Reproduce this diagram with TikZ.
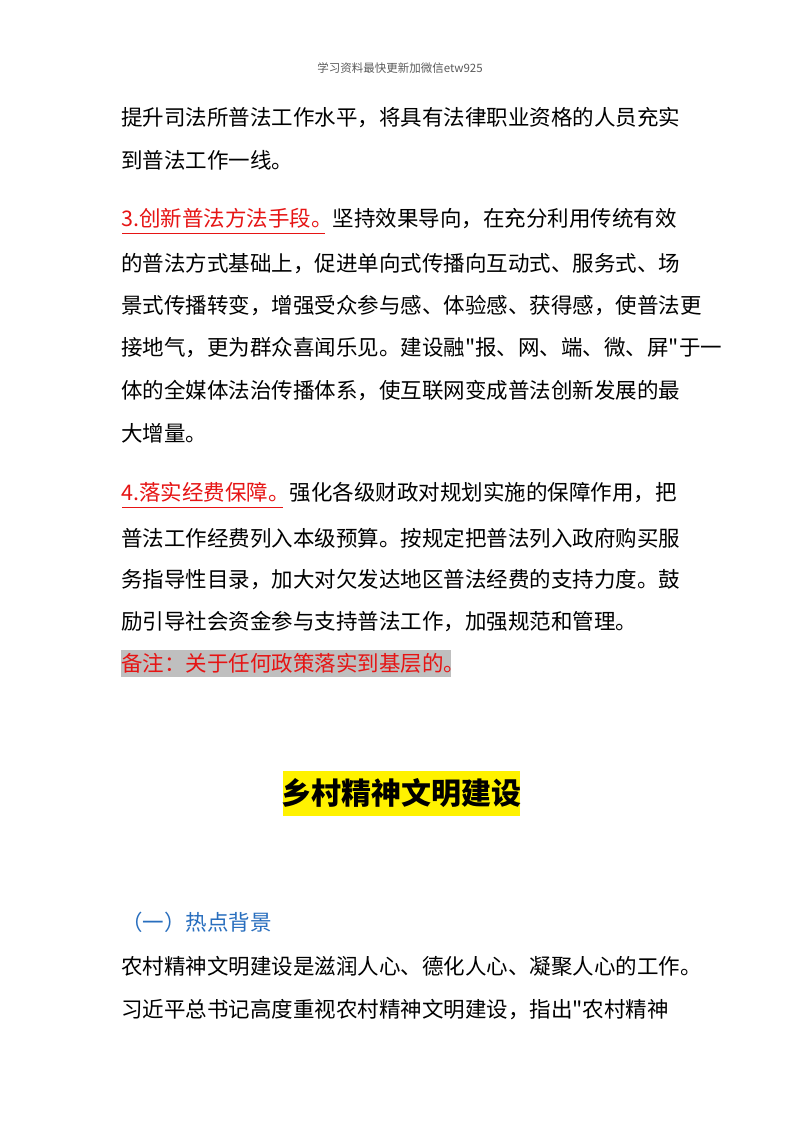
\documentclass[tikz,border=0pt]{standalone}
\usepackage{fontspec}
\setmainfont{Noto Sans CJK SC}
\newfontfamily\qf{Noto Sans CJK SC}
\newcommand{\dq}{{\qf "}}
\definecolor{hdr}{RGB}{90,90,90}
\definecolor{redt}{RGB}{230,20,20}
\definecolor{bluet}{RGB}{40,110,190}
\begin{document}
\begin{tikzpicture}[x=1pt,y=1pt,
  body/.style={anchor=west,inner sep=0pt,font=\fontsize{21.5}{21.5}\selectfont,text=black}]
\useasboundingbox (0,0) rectangle (800,-1132);
\fill[white] (0,0) rectangle (800,-1132);
\node[anchor=center,inner sep=0,font=\fontsize{11.5}{12}\selectfont,text=hdr] (h) at (400,-68) {学习资料最快更新加微信etw925};
\node[body] (l1) at (121,-118) {提升司法所普法工作水平，将具有法律职业资格的人员充实};
\node[body] (l2) at (121,-160) {到普法工作一线。};
\node[body] (l3) at (121,-219) {\textcolor{redt}{3.创新普法方法手段。}坚持效果导向，在充分利用传统有效};
\draw[redt,line width=1pt] (122,-233) -- (325,-233);
\node[body] (l4) at (121,-264) {的普法方式基础上，促进单向式传播向互动式、服务式、场};
\node[body] (l5) at (121,-306) {景式传播转变，增强受众参与感、体验感、获得感，使普法更};
\node[body] (l6) at (121,-348) {接地气，更为群众喜闻乐见。建设融\dq 报、网、端、微、屏\dq 于一};
\node[body] (l7) at (121,-390) {体的全媒体法治传播体系，使互联网变成普法创新发展的最};
\node[body] (l8) at (121,-433) {大增量。};
\node[body] (l9) at (121,-493) {\textcolor{redt}{4.落实经费保障。}强化各级财政对规划实施的保障作用，把};
\draw[redt,line width=1pt] (122,-507) -- (283,-507);
\node[body] (l10) at (121,-538) {普法工作经费列入本级预算。按规定把普法列入政府购买服};
\node[body] (l11) at (121,-580) {务指导性目录，加大对欠发达地区普法经费的支持力度。鼓};
\node[body] (l12) at (121,-622) {励引导社会资金参与支持普法工作，加强规范和管理。};
\fill[black!25] (121,-650) rectangle (451,-677);
\node[body,text=redt] (l13) at (121,-663) {备注：关于任何政策落实到基层的。};
\fill[yellow] (283,-771) rectangle (520,-816);
\node[anchor=center,inner sep=0,font=\fontsize{30}{30}\selectfont\bfseries] (t) at (401,-793) {乡村精神文明建设};
\node[body,text=bluet] (s) at (121,-922) {（一）热点背景};
\node[body] (l14) at (121,-966) {农村精神文明建设是滋润人心、德化人心、凝聚人心的工作。};
\node[body] (l15) at (121,-1010) {习近平总书记高度重视农村精神文明建设，指出\dq 农村精神};
\end{tikzpicture}
\end{document}
